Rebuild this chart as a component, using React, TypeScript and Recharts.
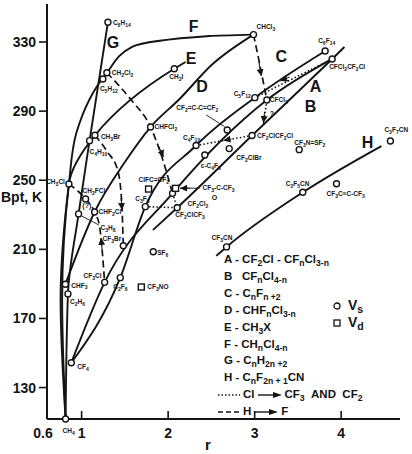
import React from "react";
import { ComposedChart, Legend, Line, Scatter, XAxis, YAxis } from "recharts";

const INK = "#141414";
const FONT = '"Liberation Sans", Arial, sans-serif';

type Pt = { name?: string; r: number; b: number };

const xTicks = [0.6, 1, 2, 3, 4];
const yTicks = [130, 170, 210, 250, 290, 330];

// V_s compounds (open circles): r, boiling point K
const vsPoints: Pt[] = [
  { name: "CH4", r: 0.815, b: 111.8 },
  { name: "C2H6", r: 0.842, b: 184.2 },
  { name: "C3H8", r: 0.965, b: 230.5 },
  { name: "C4H10", r: 1.092, b: 272.9 },
  { name: "C5H12", r: 1.246, b: 308.6 },
  { name: "C6H14", r: 1.304, b: 341.4 },
  { name: "CH3Cl", r: 0.853, b: 247.8 },
  { name: "CH2Cl2", r: 1.292, b: 312.2 },
  { name: "CHCl3", r: 2.987, b: 334.3 },
  { name: "CH3Br", r: 1.154, b: 276.0 },
  { name: "CH3I", r: 2.071, b: 314.5 },
  { name: "CHF3", r: 0.812, b: 189.8 },
  { name: "CHF2Cl", r: 1.15, b: 231.6 },
  { name: "CHFCl2", r: 1.797, b: 280.8 },
  { name: "CH2FCl", r: 1.046, b: 239.1 },
  { name: "CF3Br", r: 1.482, b: 212.1 },
  { name: "CF3Cl", r: 1.266, b: 190.9 },
  { name: "C2F6", r: 1.447, b: 193.6 },
  { name: "CF4", r: 0.881, b: 144.4 },
  { name: "SF6", r: 1.828, b: 208.6 },
  { name: "C3F8", r: 1.736, b: 234.7 },
  { name: "CF2Cl2", r: 2.051, b: 242.4 },
  { name: "CF2ClCF3", r: 2.105, b: 234.1 },
  { name: "C4F10", r: 2.323, b: 270.1 },
  { name: "c-C4F8", r: 2.424, b: 264.6 },
  { name: "CF2=C-C=CF2", r: 2.683, b: 279.1 },
  { name: "CF2ClBr", r: 2.706, b: 268.3 },
  { name: "CF2ClCF2Cl", r: 2.97, b: 275.9 },
  { name: "C5F12", r: 3.002, b: 297.8 },
  { name: "CFCl3", r: 3.141, b: 296.4 },
  { name: "C6F14", r: 3.815, b: 324.8 },
  { name: "CFCl2CF2Cl", r: 3.896, b: 320.2 },
  { name: "CF3N=SF2", r: 3.515, b: 267.7 },
  { name: "C3F7CN", r: 4.569, b: 272.7 },
  { name: "C2F5CN", r: 3.556, b: 243.0 },
  { name: "CF3C≡C-CF3", r: 3.946, b: 248.0 },
  { name: "CF3CN", r: 2.675, b: 211.4 },
];

// V_d compounds (open squares)
const vdPoints: Pt[] = [
  { name: "ClFC=CF2", r: 1.774, b: 244.9 },
  { name: "CF3-C-CF3", r: 2.086, b: 245.3 },
  { name: "CF3NO", r: 1.69, b: 188.2 },
];

const at = (n: string) => [...vsPoints, ...vdPoints].find((p) => p.name === n)!;

// family curves A..H (end points)
const curveA = [{ r: 1.824, b: 221.2 }, at("CF2ClCF3"), at("CF2ClCF2Cl"), at("CFCl2CF2Cl"), { r: 4.038, b: 327.1 }];
const curveB = [at("CF4"), at("CF3Cl"), at("CF2Cl2"), at("CFCl3"), at("CFCl2CF2Cl")];
const curveC = [at("CF4"), at("C2F6"), at("C3F8"), at("C4F10"), at("C5F12"), at("C6F14")];
const curveD = [at("CHF3"), at("CHF2Cl"), { r: 1.516, b: 261.7 }, at("CHFCl2"), { r: 2.132, b: 297.0 }, { r: 2.502, b: 316.7 }, at("CHCl3")];
const curveE = [at("CH4"), { r: 0.775, b: 180.7 }, at("CH3Cl"), at("CH3Br"), at("CH3I"), { r: 2.201, b: 318.4 }];
const curveF = [at("CH4"), { r: 0.757, b: 180.7 }, at("CH3Cl"), { r: 0.939, b: 277.3 }, at("CH2Cl2"), { r: 1.589, b: 327.3 }, { r: 2.479, b: 333.5 }, at("CHCl3")];
const curveG = [at("CH4"), at("C2H6"), at("C3H8"), at("C4H10"), at("C6H14")];
const curveH = [{ r: 2.556, b: 206.2 }, at("CF3CN"), at("C2F5CN"), { r: 4.465, b: 269.8 }];

// H -> F substitution paths (dashed)
const hfPaths = [
  [at("CHCl3"), { r: 3.056, b: 317.8 }, at("CFCl3")],
  [at("CH2Cl2"), { r: 1.574, b: 296.4 }, at("CHFCl2"), { r: 1.901, b: 267.5 }, at("CF2Cl2")],
  [at("CH3Br"), { r: 1.3, b: 266.3 }, { r: 1.416, b: 255.9 }, { r: 1.462, b: 238.6 }, at("CF3Br")],
  [at("CH3Cl"), at("CH2FCl"), at("CHF2Cl"), { r: 1.208, b: 223.1 }, at("CF3Cl")],
];

// Cl -> CF3 and CF2 paths (dotted)
const clPaths = [
  [at("C3F8"), at("CF2ClCF3")],
  [at("CF2Cl2"), at("CF2ClCF3")],
  [at("C4F10"), at("CF2ClCF2Cl")],
  [at("C5F12"), at("CFCl2CF2Cl")],
  [{ r: 3.103, b: 282.5 }, at("CFCl3")],
];

// label leader lines
const leaders = [
  [{ r: 2.44, b: 287.8 }, { r: 2.653, b: 281.0 }],
  [{ r: 2.138, b: 245.4 }, { r: 2.363, b: 245.4 }],
  [{ r: 1.0, b: 229.3 }, { r: 1.2, b: 224.1 }],
];

// arrowheads along the paths: [from, tip]
const arrowStubs = [
  [{ r: 3.05, b: 318.4 }, { r: 3.076, b: 310.3 }],
  [{ r: 1.889, b: 269.8 }, { r: 1.947, b: 263.4 }],
  [{ r: 1.456, b: 239.7 }, { r: 1.468, b: 232.8 }],
  [{ r: 1.237, b: 209.7 }, { r: 1.225, b: 216.6 }],
  [{ r: 3.114, b: 289.5 }, { r: 3.102, b: 283.1 }],
  [{ r: 2.248, b: 245.4 }, { r: 2.14, b: 245.4 }],
  [{ r: 2.733, b: 273.9 }, { r: 2.64, b: 273.0 }],
  [{ r: 3.403, b: 309.7 }, { r: 3.299, b: 307.4 }],
];

const curveTags: Pt[] = [
  { name: "G", r: 1.364, b: 330.0 },
  { name: "F", r: 2.294, b: 339.3 },
  { name: "E", r: 2.265, b: 320.7 },
  { name: "D", r: 2.392, b: 304.5 },
  { name: "C", r: 3.307, b: 321.5 },
  { name: "A", r: 3.703, b: 304.5 },
  { name: "B", r: 3.645, b: 293.0 },
  { name: "H", r: 4.304, b: 271.8 },
];

const notes: Pt[] = [
  { name: "?", r: 3.2, b: 288.9 },
  { name: "(?)", r: 1.06, b: 235.2 },
  { name: "O", r: 2.536, b: 240.3 },
];

// where each compound name sits relative to its marker
const labelAt: Record<string, [number, number, string]> = {
  CH4: [-3, 12, "start"],
  C2H6: [2, 8, "start"],
  C3H8: [22, 14, "start"],
  C4H10: [0, 11, "start"],
  C5H12: [-3, 10, "start"],
  C6H14: [5, 0, "start"],
  CH3Cl: [-4, -2, "end"],
  CH2Cl2: [5, 0, "start"],
  CHCl3: [3, -8, "start"],
  CH3Br: [6, 1, "start"],
  CH3I: [-5, 8, "start"],
  CHF3: [6, 1, "start"],
  CHF2Cl: [4, 0, "start"],
  CHFCl2: [4, 0, "start"],
  CH2FCl: [-3, -8, "start"],
  CF3Br: [-2, -7, "end"],
  CF3Cl: [-3, -7, "end"],
  C2F6: [-7, 9, "start"],
  CF4: [6, 4, "start"],
  SF6: [4, 1, "start"],
  C3F8: [-10, -8, "start"],
  CF2Cl2: [15, 10, "start"],
  CF2ClCF3: [-2, 7, "start"],
  C4F10: [-13, -8, "start"],
  "c-C4F8": [-4, 11, "start"],
  "CF2=C-C=CF2": [-51, -22, "start"],
  CF2ClBr: [7, 9, "start"],
  CF2ClCF2Cl: [5, 0, "start"],
  C5F12: [-4, -4, "end"],
  CFCl3: [3, 0, "start"],
  C6F14: [-7, -10, "start"],
  CFCl2CF2Cl: [-3, 8, "start"],
  "CF3N=SF2": [-5, -7, "start"],
  C3F7CN: [-6, -11, "start"],
  C2F5CN: [-17, -9, "start"],
  "CF3C≡C-CF3": [-10, 10, "start"],
  CF3CN: [-15, -9, "start"],
  "ClFC=CF2": [-10, -9, "start"],
  "CF3-C-CF3": [27, -1, "start"],
  CF3NO: [6, 0, "start"],
};

function formula(s: string, size: number) {
  const parts = s.split(/(\d+)/).filter(Boolean);
  let low = false;
  return parts.map((p, i) => {
    const num = /^\d+$/.test(p);
    const dy = num && !low ? size * 0.3 : !num && low ? -size * 0.3 : 0;
    low = num;
    return (
      <tspan key={i} dy={dy} fontSize={num ? size * 0.78 : size}>
        {p}
      </tspan>
    );
  });
}

const marker = (kind: "circle" | "square") => (props: any) => {
  const { cx, cy, payload } = props;
  const [dx, dy, anchor] = labelAt[payload.name] ?? [5, 0, "start"];
  const fs = 6.5;
  return (
    <g>
      {kind === "circle" ? (
        <circle cx={cx} cy={cy} r={3} fill="#fff" stroke={INK} strokeWidth={1.4} />
      ) : (
        <rect x={cx - 3} y={cy - 3} width={6} height={6} fill="#fff" stroke={INK} strokeWidth={1.4} />
      )}
      <text x={cx + dx} y={cy + dy + fs * 0.35} textAnchor={anchor} fontSize={fs} fontWeight={700} fill={INK}>
        {formula(payload.name, fs)}
      </text>
    </g>
  );
};

const textOnly = (size: number) => (props: any) => (
  <text x={props.cx} y={props.cy + size * 0.36} textAnchor="middle" fontSize={size} fontWeight={700} fill={INK}>
    {props.payload.name}
  </text>
);

const renderXTick = (props: any) => {
  const { x, y, payload } = props;
  const first = payload.value === 0.6;
  return (
    <g>
      {!first && <line x1={x} x2={x} y1={y} y2={y - 8} stroke={INK} strokeWidth={1.6} />}
      <text x={first ? x - 4 : x} y={y + 19} textAnchor="middle" fontSize={14} fontWeight={700} fill={INK}>
        {payload.value}
      </text>
    </g>
  );
};

const Arrow = () => (
  <svg width={24} height={8} style={{ verticalAlign: "middle", margin: "0 3px" }}>
    <line x1={0} y1={4} x2={18} y2={4} stroke={INK} strokeWidth={1.4} />
    <polygon points="15,1 24,4 15,7" fill={INK} />
  </svg>
);

const Stroke = ({ dash }: { dash: string }) => (
  <svg width={22} height={6} style={{ verticalAlign: "middle", marginRight: 3 }}>
    <line x1={0} y1={3} x2={22} y2={3} stroke={INK} strokeWidth={1.4} strokeDasharray={dash} />
  </svg>
);

const sub: React.CSSProperties = { fontSize: "0.75em", verticalAlign: "-0.3em", lineHeight: 0 };

const legendRows = [
  <>A - CF<sub style={sub}>2</sub>Cl - CF<sub style={sub}>n</sub>Cl<sub style={sub}>3-n</sub></>,
  <>B&nbsp;&nbsp;&nbsp;CF<sub style={sub}>n</sub>Cl<sub style={sub}>4-n</sub></>,
  <>C - C<sub style={sub}>n</sub>F<sub style={sub}>n +2</sub></>,
  <>D - CHF<sub style={sub}>n</sub>Cl<sub style={sub}>3-n</sub></>,
  <>E - CH<sub style={sub}>3</sub>X</>,
  <>F - CH<sub style={sub}>n</sub>Cl<sub style={sub}>4-n</sub></>,
  <>G - C<sub style={sub}>n</sub>H<sub style={sub}>2n +2</sub></>,
  <>H - C<sub style={sub}>n</sub>F<sub style={sub}>2n + 1</sub>CN</>,
];

const LegendBox = () => (
  <div style={{ position: "relative", font: `700 11.5px ${FONT}`, color: INK, lineHeight: "16.9px", whiteSpace: "nowrap" }}>
    {legendRows.map((row, i) => (
      <div key={i} style={{ paddingLeft: 6 }}>{row}</div>
    ))}
    <div>
      <Stroke dash="1.5 2" />Cl<Arrow />CF<sub style={sub}>3</sub>&nbsp;&nbsp;AND&nbsp;&nbsp;CF<sub style={sub}>2</sub>
    </div>
    <div>
      <Stroke dash="5 3" />H<Arrow />F
    </div>
    <div style={{ position: "absolute", left: 115, top: 46, fontSize: 14 }}>
      <svg width={8} height={8} style={{ marginRight: 7 }}>
        <circle cx={4} cy={4} r={3} fill="#fff" stroke={INK} strokeWidth={1.3} />
      </svg>
      V<sub style={sub}>s</sub>
    </div>
    <div style={{ position: "absolute", left: 115, top: 63, fontSize: 14 }}>
      <svg width={8} height={8} style={{ marginRight: 7 }}>
        <rect x={1} y={1} width={6} height={6} fill="#fff" stroke={INK} strokeWidth={1.3} />
      </svg>
      V<sub style={sub}>d</sub>
    </div>
  </div>
);

export default function App() {
  return (
    <div style={{ position: "absolute", left: 0, top: 0, width: 412, height: 454, background: "#fff", fontFamily: FONT }}>
      <ComposedChart width={412} height={454} margin={{ top: 4, right: 12, bottom: 5, left: 0 }}>
        <defs>
          <marker id="arrowhead" viewBox="0 0 10 10" refX={10} refY={5} markerWidth={7} markerHeight={7} markerUnits="userSpaceOnUse" orient="auto">
            <path d="M0,0 L10,5 L0,10 z" fill={INK} />
          </marker>
        </defs>
        <XAxis
          type="number"
          dataKey="r"
          domain={[0.6, 4.68]}
          ticks={xTicks}
          interval={0}
          height={30}
          tickSize={0}
          tickMargin={0}
          tickLine={false}
          tick={renderXTick}
          axisLine={{ stroke: INK, strokeWidth: 2 }}
          label={{
            content: (p: any) => (
              <text x={p.viewBox.x + 161} y={p.viewBox.y + 31} textAnchor="middle" fontSize={15} fontWeight={700} fill={INK}>
                r
              </text>
            ),
          }}
        />
        <YAxis
          type="number"
          dataKey="b"
          domain={[111.8, 352]}
          ticks={yTicks}
          interval={0}
          width={47}
          tickSize={8}
          tickMargin={3}
          tickLine={{ stroke: INK, strokeWidth: 1.6 }}
          axisLine={{ stroke: INK, strokeWidth: 2 }}
          tick={{ fill: INK, fontSize: 14, fontWeight: 700 }}
          label={{
            content: (p: any) => (
              <text x={1} y={p.viewBox.y + 198} fontSize={14} fontWeight={700} fill={INK}>
                Bpt, K
              </text>
            ),
          }}
        />
        {[curveA, curveB, curveC, curveD, curveH].map((d, i) => (
          <Line key={"m" + i} data={d} dataKey="b" type="monotone" stroke={INK} strokeWidth={1.9} dot={false} isAnimationActive={false} />
        ))}
        {[curveE, curveF, curveG].map((d, i) => (
          <Line key={"y" + i} data={d} dataKey="b" type="monotoneY" stroke={INK} strokeWidth={1.9} dot={false} isAnimationActive={false} />
        ))}
        {hfPaths.map((d, i) => (
          <Line key={"h" + i} data={d} dataKey="b" type="monotone" stroke={INK} strokeWidth={1.7} strokeDasharray="7 4" dot={false} isAnimationActive={false} />
        ))}
        {clPaths.map((d, i) => (
          <Line key={"c" + i} data={d} dataKey="b" type="linear" stroke={INK} strokeWidth={1.6} strokeDasharray="1.5 2.2" dot={false} isAnimationActive={false} />
        ))}
        {leaders.map((d, i) => (
          <Line key={"l" + i} data={d} dataKey="b" type="linear" stroke={INK} strokeWidth={0.9} dot={false} isAnimationActive={false} />
        ))}
        {arrowStubs.map((d, i) => (
          <Line key={"a" + i} data={d} dataKey="b" type="linear" stroke={INK} strokeWidth={1} markerEnd="url(#arrowhead)" dot={false} isAnimationActive={false} />
        ))}
        <Scatter data={vsPoints} dataKey="b" shape={marker("circle")} isAnimationActive={false} />
        <Scatter data={vdPoints} dataKey="b" shape={marker("square")} isAnimationActive={false} />
        <Scatter data={curveTags} dataKey="b" shape={textOnly(16)} isAnimationActive={false} />
        <Scatter data={notes} dataKey="b" shape={textOnly(7)} isAnimationActive={false} />
        <Legend
          layout="vertical"
          align="center"
          verticalAlign="middle"
          width={190}
          wrapperStyle={{ position: "absolute", left: 218, top: 251, width: 190 }}
          content={() => <LegendBox />}
        />
      </ComposedChart>
    </div>
  );
}
